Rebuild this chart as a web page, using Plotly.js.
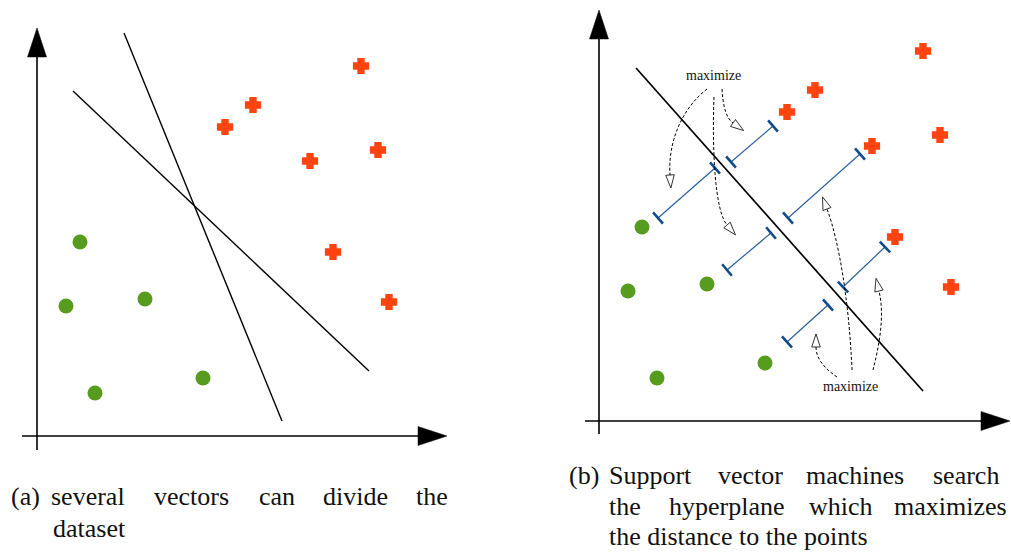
<!DOCTYPE html>
<html><head><meta charset="utf-8">
<script src="https://cdn.plot.ly/plotly-3.0.1.min.js"></script>
<style>html,body{margin:0;padding:0;background:#fff}</style></head>
<body>
<div id="chart" style="width:1011px;height:555px"></div>
<script>
// ---- data (units: 1 unit = distance on each panel's axes) ----
const greenX = [4.3, 2.9, 10.8, 5.8, 16.6];
const greenY = [19.4, 13.0, 13.7, 4.3, 5.8];
const redX = [18.8, 21.6, 32.4, 27.3, 34.1, 29.6, 35.2];
const redY = [30.9, 33.1, 37.0, 27.5, 28.6, 18.4, 13.4];
// panel (a): two separating lines
const dividerX0 = [8.7, 3.6];
const dividerY0 = [40.3, 34.5];
const dividerX1 = [24.5, 33.2];
const dividerY1 = [1.5, 6.5];
// panel (b): maximal-margin hyperplane
const hyperX = [3.7, 32.4];
const hyperY = [35.3, 3.0];
// panel (b): margin distances
const marginX0 = [5.9, 13.2, 18.9, 12.8, 24.4, 18.8];
const marginY0 = [20.3, 25.9, 20.3, 15.1, 13.4, 7.9];
const marginX1 = [11.6, 17.4, 26.1, 17.2, 28.6, 22.9];
const marginY1 = [25.3, 29.5, 26.7, 18.8, 17.4, 11.6];
// dashed "maximize" arrows: start, control1, control2, end
const curvePts = [
  [10.8, 33.2, 8.0, 31.0, 6.9, 27.5, 7.1, 24.6],
  [11.5, 32.4, 11.3, 27.0, 11.6, 21.0, 12.8, 19.6],
  [12.3, 33.2, 12.4, 31.5, 12.7, 30.3, 13.4, 29.8],
  [23.8, 4.4, 22.2, 5.5, 21.7, 6.5, 21.7, 7.4],
  [25.3, 5.1, 25.0, 12.0, 24.0, 18.0, 22.8, 21.2],
  [27.4, 5.1, 28.0, 7.5, 28.6, 10.5, 28.0, 13.0]
];
const labelText = "maximize";
const labelPosX = [11.4, 25.1];
const labelPosY = [34.6, 3.5];
// captions: [word, left px]
const capA1 = [["(a)", 10], ["several", 50], ["vectors", 153], ["can", 258], ["divide", 322], ["the", 415]];
const capA2 = [["dataset", 52]];
const capB1 = [["(b)", 568], ["Support", 608], ["vector", 717], ["machines", 805], ["search", 932]];
const capB2 = [["the", 608], ["hyperplane", 668], ["which", 808], ["maximizes", 893]];
const capB3 = [["the distance to the points", 608]];
const capBase = {A1: 504, A2: 536, B1: 483, B2: 514, B3: 544};

const SERIF = 'Liberation Serif, serif';

// ---- helpers ----
function segs(x0, y0, x1, y1) {
  const x = [], y = [];
  for (let i = 0; i < x0.length; i++) { x.push(x0[i], x1[i], null); y.push(y0[i], y1[i], null); }
  return {x, y};
}
function caps(x0, y0, x1, y1, h) {
  const x = [], y = [];
  for (let i = 0; i < x0.length; i++) {
    const dx = x1[i] - x0[i], dy = y1[i] - y0[i], n = Math.hypot(dx, dy);
    const px = -dy / n * h, py = dx / n * h;
    [[x0[i], y0[i]], [x1[i], y1[i]]].forEach(p => {
      x.push(p[0] - px, p[0] + px, null); y.push(p[1] - py, p[1] + py, null);
    });
  }
  return {x, y};
}
function headPath(bx, by, dx, dy, L, W) {
  const n = Math.hypot(dx, dy); dx /= n; dy /= n;
  const px = -dy * W / 2, py = dx * W / 2;
  const tx = bx + dx * L, ty = by + dy * L;
  return `M${bx + px},${by + py} L${tx},${ty} L${bx - px},${by - py} Z`;
}

const W = 1011, H = 555;
const traces = [];
const shapes = [];
const annotations = [];

// axes with arrows
function axisArrow(xr, yr, x0, y0, x1, y1) {
  const dx = x1 - x0, dy = y1 - y0, n = Math.hypot(dx, dy);
  const L = 2.9, Wd = 1.9;
  const bx = x1 - dx / n * L, by = y1 - dy / n * L;
  shapes.push({type: 'line', xref: xr, yref: yr, x0, y0, x1: bx + dx / n * 0.5, y1: by + dy / n * 0.5,
    line: {color: '#000', width: 1.6}});
  shapes.push({type: 'path', xref: xr, yref: yr, path: headPath(bx, by, dx, dy, L, Wd),
    fillcolor: '#000', line: {color: '#000', width: 0.5}});
}
axisArrow('x', 'y', 0, -1.4, 0, 40.8);
axisArrow('x', 'y', -1.5, 0, 41.0, 0);
axisArrow('x2', 'y2', 0, -1.3, 0, 41.1);
axisArrow('x2', 'y2', -1.4, 0, 41.1, 0);

// panel a lines
const dv = segs(dividerX0, dividerY0, dividerX1, dividerY1);
traces.push({x: dv.x, y: dv.y, xaxis: 'x', yaxis: 'y', mode: 'lines', line: {color: '#000', width: 1.4}, hoverinfo: 'skip'});
// panel b hyperplane
traces.push({x: hyperX, y: hyperY, xaxis: 'x2', yaxis: 'y2', mode: 'lines', line: {color: '#000', width: 1.7}, hoverinfo: 'skip'});
// margins
const mg = segs(marginX0, marginY0, marginX1, marginY1);
traces.push({x: mg.x, y: mg.y, xaxis: 'x2', yaxis: 'y2', mode: 'lines', line: {color: '#2a5f9e', width: 1.2}, hoverinfo: 'skip'});
const cp = caps(marginX0, marginY0, marginX1, marginY1, 0.75);
traces.push({x: cp.x, y: cp.y, xaxis: 'x2', yaxis: 'y2', mode: 'lines', line: {color: '#0e4a8c', width: 2.6}, hoverinfo: 'skip'});

// dashed curves
curvePts.forEach(c => {
  shapes.push({type: 'path', xref: 'x2', yref: 'y2',
    path: `M${c[0]},${c[1]} C${c[2]},${c[3]} ${c[4]},${c[5]} ${c[6]},${c[7]}`,
    line: {color: '#000', width: 1, dash: '3px,2px'}});
  shapes.push({type: 'path', xref: 'x2', yref: 'y2',
    path: headPath(c[6], c[7], c[6] - c[4], c[7] - c[5], 1.3, 0.85),
    fillcolor: '#fff', line: {color: '#000', width: 0.8}});
});

// points
['x', 'x2'].forEach((xa, i) => {
  const ya = i === 0 ? 'y' : 'y2';
  traces.push({x: greenX, y: greenY, xaxis: xa, yaxis: ya, mode: 'markers',
    marker: {symbol: 'circle', size: 15, color: '#579b1f', line: {width: 0}}, hoverinfo: 'skip'});
  traces.push({x: redX, y: redY, xaxis: xa, yaxis: ya, mode: 'markers',
    marker: {symbol: 'cross', size: 11, color: '#ff4411', line: {width: 3, color: '#ff4411'}}, hoverinfo: 'skip'});
});

// maximize labels
labelPosX.forEach((x, i) => {
  annotations.push({xref: 'x2', yref: 'y2', x, y: labelPosY[i], text: labelText, showarrow: false,
    font: {family: SERIF, size: 14, color: '#111'}});
});

// captions
function cap(words, base) {
  words.forEach(w => {
    annotations.push({xref: 'paper', yref: 'paper', x: w[1] / W, y: 1 - (base - 8) / H,
      xanchor: 'left', yanchor: 'middle', text: w[0], showarrow: false, borderpad: 0,
      font: {family: SERIF, size: 26, color: '#111'}});
  });
}
cap(capA1, capBase.A1); cap(capA2, capBase.A2);
cap(capB1, capBase.B1); cap(capB2, capBase.B2); cap(capB3, capBase.B3);

const hidden = {visible: false, showgrid: false, zeroline: false, fixedrange: true};
const layout = {
  width: W, height: H, margin: {l: 0, r: 0, t: 0, b: 0},
  font: {family: SERIF},
  paper_bgcolor: '#fff', plot_bgcolor: 'rgba(0,0,0,0)', showlegend: false,
  xaxis: Object.assign({domain: [0, 0.5], range: [-3.7, 46.85]}, hidden),
  yaxis: Object.assign({domain: [0, 1], range: [-11.9, 43.6]}, hidden),
  xaxis2: Object.assign({domain: [0.5, 1], range: [-9.35, 41.2]}, hidden),
  yaxis2: Object.assign({domain: [0, 1], range: [-13.4, 42.1], anchor: 'x2'}, hidden),
  shapes, annotations
};
Plotly.newPlot('chart', traces, layout, {staticPlot: true, displayModeBar: false});
</script>
</body></html>
